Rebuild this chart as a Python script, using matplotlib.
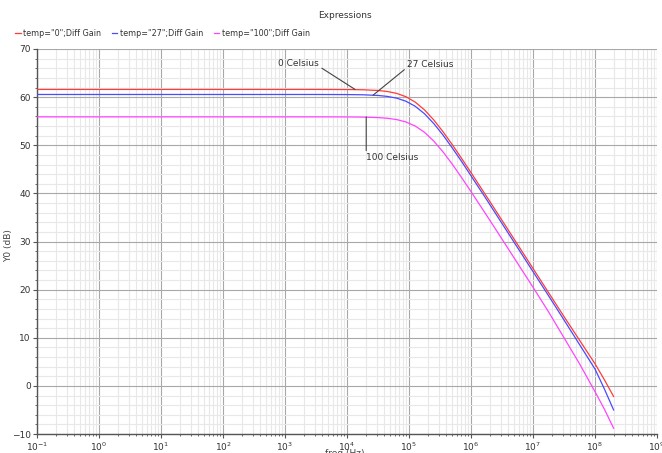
import matplotlib
matplotlib.use("Agg")
import matplotlib.pyplot as plt
import numpy as np

# frequency points (log10 Hz) and gain values (dB)
log_freq = [-1, 0, 1, 2, 3, 3.5, 4, 4.25, 4.5, 4.65, 4.8, 4.95, 5.1, 5.25, 5.4,
            5.55, 5.7, 5.85, 6.0, 6.25, 6.5, 6.75, 7.0, 7.25, 7.5, 7.75, 8.0, 8.15, 8.3]
gain_0 = [61.6, 61.6, 61.6, 61.6, 61.6, 61.6, 61.58, 61.53, 61.38, 61.17, 60.78, 60.09,
          58.97, 57.35, 55.25, 52.79, 50.08, 47.24, 44.32, 39.38, 34.4, 29.4, 24.4,
          19.4, 14.4, 9.5, 4.6, 1.3, -2.2]
gain_27 = [60.55, 60.55, 60.55, 60.55, 60.55, 60.55, 60.53, 60.49, 60.35, 60.15, 59.79,
           59.15, 58.1, 56.55, 54.5, 52.1, 49.4, 46.6, 43.66, 38.75, 33.75, 28.75, 23.75,
           18.75, 13.7, 8.6, 3.5, -0.6, -5.0]
gain_100 = [55.9, 55.9, 55.9, 55.9, 55.9, 55.9, 55.89, 55.85, 55.75, 55.61, 55.34, 54.84,
            54.0, 52.69, 50.86, 48.6, 46.03, 43.25, 40.37, 35.47, 30.5, 25.5, 20.5,
            15.4, 10.0, 4.6, -1.2, -4.8, -8.8]

series_labels = ['temp="0";Diff Gain', 'temp="27";Diff Gain', 'temp="100";Diff Gain']
series_colors = ['#ff3b3b', '#4a4aff', '#ff44ff']

x_ticks = [1e-1, 1e0, 1e1, 1e2, 1e3, 1e4, 1e5, 1e6, 1e7, 1e8, 1e9]
x_tick_labels = [r'$10^{-1}$', r'$10^{0}$', r'$10^{1}$', r'$10^{2}$', r'$10^{3}$',
                 r'$10^{4}$', r'$10^{5}$', r'$10^{6}$', r'$10^{7}$', r'$10^{8}$', r'$10^{9}$']
y_ticks = [-10, 0, 10, 20, 30, 40, 50, 60, 70]

plt.rcParams['font.family'] = ['DejaVu Sans']
plt.rcParams['mathtext.fontset'] = 'dejavusans'

W, H = 662, 453
fig = plt.figure(figsize=(W / 100, H / 100), dpi=100)
ax = fig.add_axes([37 / W, 1 - 434 / H, 620 / W, 385 / H])

freq = 10.0 ** np.array(log_freq)
lines = []
for g, c, lab in zip([gain_0, gain_27, gain_100], series_colors, series_labels):
    ln, = ax.plot(freq, g, color=c, lw=0.9, label=lab, zorder=3)
    lines.append(ln)

ax.set_xscale('log')
ax.set_xlim(1e-1, 1e9)
ax.set_ylim(-10, 70)
ax.set_xticks(x_ticks)
ax.set_xticklabels(x_tick_labels)
ax.xaxis.set_minor_locator(matplotlib.ticker.LogLocator(base=10, subs=np.arange(2, 10), numticks=100))
ax.xaxis.set_minor_formatter(matplotlib.ticker.NullFormatter())
ax.set_yticks(y_ticks)
ax.yaxis.set_minor_locator(matplotlib.ticker.MultipleLocator(2))

ax.grid(which='major', color='#a8a8a8', lw=0.8)
ax.grid(which='minor', color='#e8e8e8', lw=0.8)
ax.set_axisbelow(True)

for s in ['top', 'right']:
    ax.spines[s].set_visible(False)
for s in ['left', 'bottom']:
    ax.spines[s].set_color('#555555')
    ax.spines[s].set_linewidth(1.0)

ax.tick_params(which='major', direction='out', length=3, width=0.8, colors='#555555',
               labelsize=6.5, labelcolor='#333333', pad=1.5)
ax.tick_params(which='minor', direction='out', length=1.5, width=0.6, colors='#555555')

ax.set_ylabel('Y0 (dB)', fontsize=6.5, color='#444444')
ax.yaxis.set_label_coords(-24 / 620, 0.49)

# annotations
def ann_kw(rel):
    return dict(fontsize=6.5, color='#333333',
                arrowprops=dict(arrowstyle='-', color='#444444', lw=0.8,
                                shrinkA=0, shrinkB=0, relpos=rel))

ax.annotate('0 Celsius', xy=(10 ** 4.13, 61.6), xytext=(10 ** 3.55, 66.0),
            ha='right', va='bottom', **ann_kw((1.0, 0.2)))
ax.annotate('27 Celsius', xy=(10 ** 4.42, 60.4), xytext=(10 ** 4.97, 65.8),
            ha='left', va='bottom', **ann_kw((0.0, 0.2)))
ax.annotate('100 Celsius', xy=(10 ** 4.31, 55.9), xytext=(10 ** 4.31, 48.3),
            ha='left', va='top', **ann_kw((0.0, 1.0)))

fig.text(345 / W, 1 - 16 / H, 'Expressions', ha='center', va='center', fontsize=6.5,
         color='#333333')
fig.text(345 / W, 1 - 449 / H, 'freq (Hz)', ha='center', va='top', fontsize=6.5,
         color='#444444')

fig.legend(handles=lines, loc='center left', bbox_to_anchor=(8 / W, 1 - 33 / H), ncol=3,
           frameon=False, fontsize=5.8, handlelength=0.7, handletextpad=0.3,
           columnspacing=1.3, labelcolor='#333333')

fig.savefig('out.png', dpi=100)
